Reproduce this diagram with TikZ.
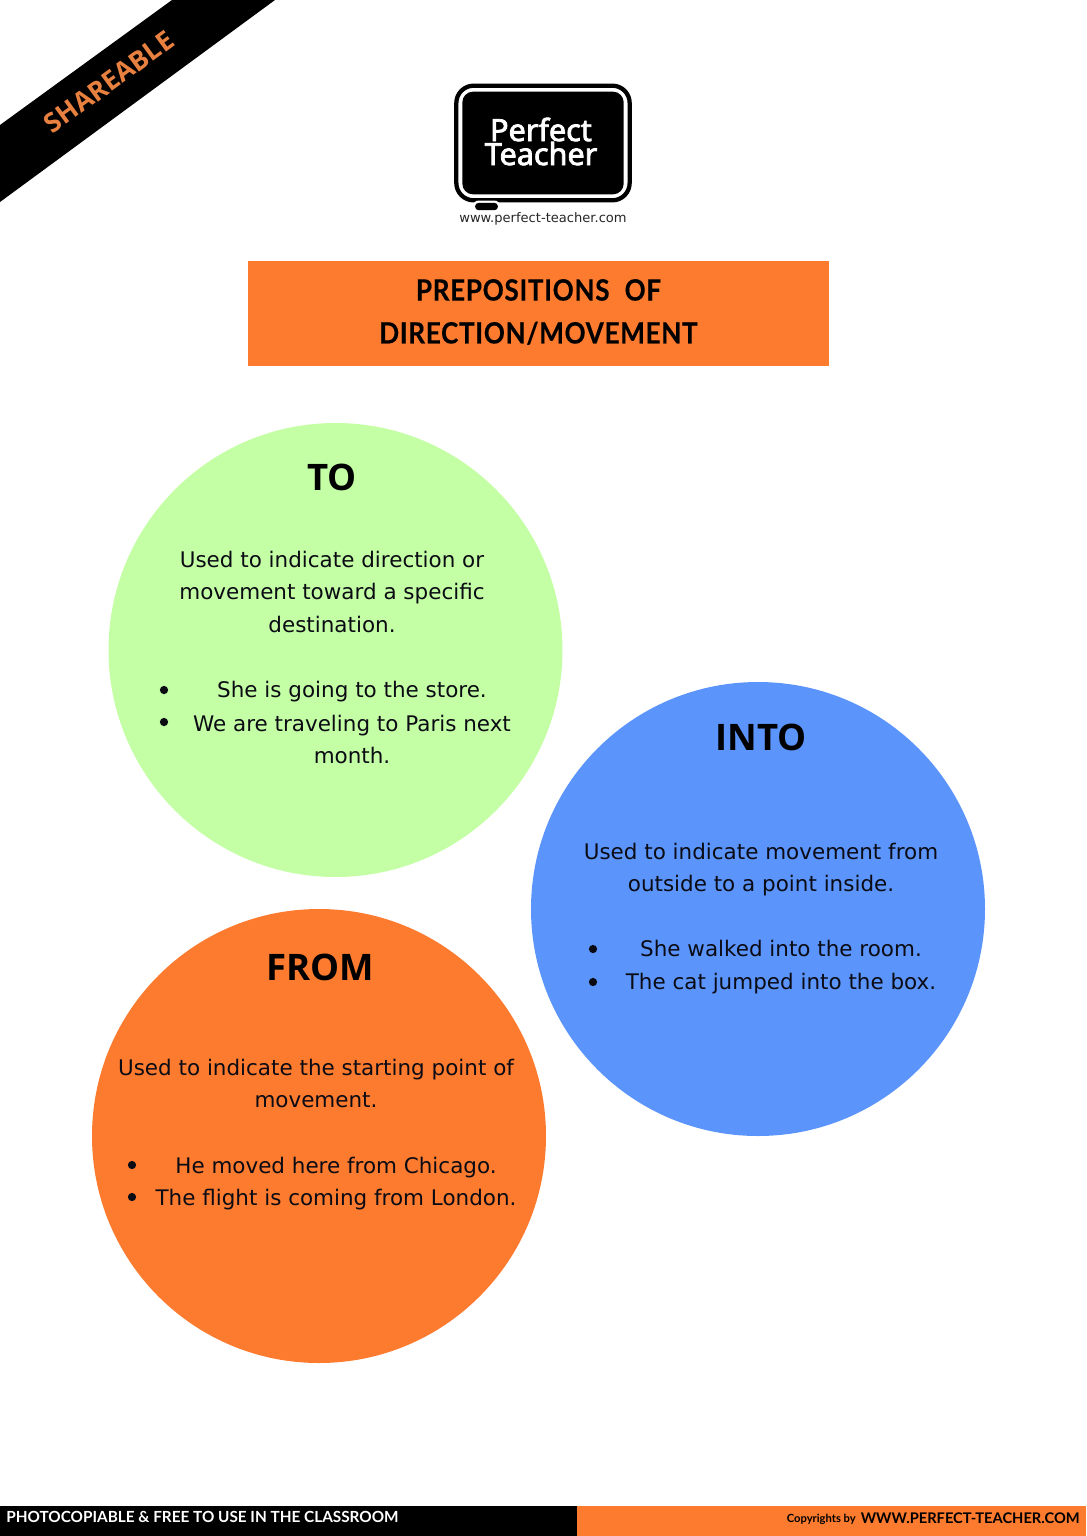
\documentclass[tikz,border=0pt]{standalone}
\usepackage{fontspec}
\setmainfont{DejaVu Sans}
\newfontfamily\headfont{Open Sans}
\newfontfamily\titlefont[FakeStretch=0.89,FakeBold=0.3,LetterSpace=2.3]{Lato}
\newfontfamily\footfont{Lato}
\newfontfamily\footbyfont{Lato}
\newfontfamily\logofont[FakeBold=2.5]{Noto Sans}
\definecolor{orangeA}{HTML}{FD7B2F}
\definecolor{greenA}{HTML}{C4FFA5}
\definecolor{blueA}{HTML}{5B94FB}
\definecolor{inkA}{HTML}{0B0B14}
\definecolor{ribbonText}{HTML}{E8803F}
\tikzset{
 disc/.style={circle,minimum size=340.5pt,inner sep=0pt,draw=none},
 head/.style={font=\headfont\fontsize{27.4}{30}\selectfont\bfseries,text=black,inner sep=0pt},
 body/.style={font=\fontsize{16.1}{24.4}\selectfont,text=inkA,align=center,inner sep=0pt,execute at begin node=\strut,execute at end node=\strut},
 dotmark/.style={circle,fill=inkA,minimum size=6.2pt,inner sep=0pt},
}
\begin{document}
\begin{tikzpicture}[x=0.75pt,y=-0.75pt]
\useasboundingbox (0,0) rectangle (1086,1536);
\fill[white] (0,0) rectangle (1086,1536);
% ribbon
\fill[black] (0,125) -- (172,0) -- (275,0) -- (0,202) -- cycle;
\node[rotate=36,text=ribbonText,inner sep=0pt,font=\headfont\fontsize{20}{22}\selectfont\bfseries] (ribbon) at (109,82) {SHAREABLE};
% logo
\node[draw=black,line width=3.2pt,fill=white,rounded corners=13pt,minimum width=130pt,minimum height=86pt,inner sep=0pt] (logoframe) at (543,143) {};
\node[fill=black,rounded corners=8pt,minimum width=121pt,minimum height=77pt,inner sep=0pt] (logoscreen) at (543,143) {};
\node[fill=white,rounded corners=4.5pt,minimum width=20.5pt,minimum height=9pt,inner sep=0pt] (logonotch) at (486.5,206.5) {};
\node[fill=black,rounded corners=2.5pt,minimum width=17pt,minimum height=5.5pt,inner sep=0pt] (logostand) at (486.5,206.5) {};
\node[text=white,align=center,inner sep=0pt,font=\logofont\fontsize{22.9}{18}\selectfont] (logotext) at (541,141.5) {Perfect\\Teacher};
\node[text=black!85,inner sep=0pt,font=\fontsize{9.8}{11}\selectfont] (logourl) at (543,219) {www.perfect-teacher.com};
% title
\node[fill=orangeA,minimum width=435.75pt,minimum height=78.75pt,inner sep=0pt] (titlebox) at (538.5,313.5) {};
\node[align=center,text=black,inner sep=0pt,font=\titlefont\fontsize{22}{32.2}\selectfont\bfseries] (titletext) at (538.5,312) {PREPOSITIONS\hspace{6pt} OF\\DIRECTION/MOVEMENT};
% circles
\node[disc,fill=greenA] (to) at (335.5,650) {};
\node[disc,fill=blueA] (into) at (758,909) {};
\node[disc,fill=orangeA] (from) at (319,1136) {};
% TO
\node[head] (tohead) at (332,477) {TO};
\node[body] (todef) at (332,596.5) {Used to indicate direction or\\movement toward a specific\\destination.};
\node[dotmark] (tod1) at (164,690) {};
\node[dotmark] (tod2) at (164,722) {};
\node[body] (toex1) at (352,691) {She is going to the store.};
\node[body] (toex2) at (352,744) {We are traveling to Paris next\\month.};
% INTO
\node[head] (intohead) at (761,737) {INTO};
\node[body] (intodef) at (761,872) {Used to indicate movement from\\outside to a point inside.};
\node[dotmark] (intod1) at (593,949) {};
\node[dotmark] (intod2) at (593,982) {};
\node[body] (intoex1) at (781,950) {She walked into the room.};
\node[body] (intoex2) at (781,983) {The cat jumped into the box.};
% FROM
\node[head] (fromhead) at (320,967) {FROM};
\node[body] (fromdef) at (316,1088) {Used to indicate the starting point of\\movement.};
\node[dotmark] (fromd1) at (132,1165) {};
\node[dotmark] (fromd2) at (132,1197) {};
\node[body] (fromex1) at (336,1166.5) {He moved here from Chicago.};
\node[body] (fromex2) at (336,1198.5) {The flight is coming from London.};
% footer
\node[fill=black,minimum width=432.75pt,minimum height=22.5pt,inner sep=0pt] (footL) at (288.5,1521) {};
\node[fill=orangeA,minimum width=381.75pt,minimum height=22.5pt,inner sep=0pt] (footR) at (831.5,1521) {};
\node[text=white,anchor=west,inner sep=0pt,font=\footfont\fontsize{11.5}{12}\selectfont\bfseries] (footLtext) at (6,1517) {PHOTOCOPIABLE \& FREE TO USE IN THE CLASSROOM};
\node[text=black,anchor=east,inner sep=0pt,font=\footbyfont\fontsize{11}{12}\selectfont\bfseries] (footRtext) at (1080,1518) {WWW.PERFECT-TEACHER.COM};
\node[text=black,anchor=east,inner sep=0pt,font=\footbyfont\fontsize{8.4}{9}\selectfont\bfseries] (footRby) at (856,1519) {Copyrights by};
\end{tikzpicture}
\end{document}
